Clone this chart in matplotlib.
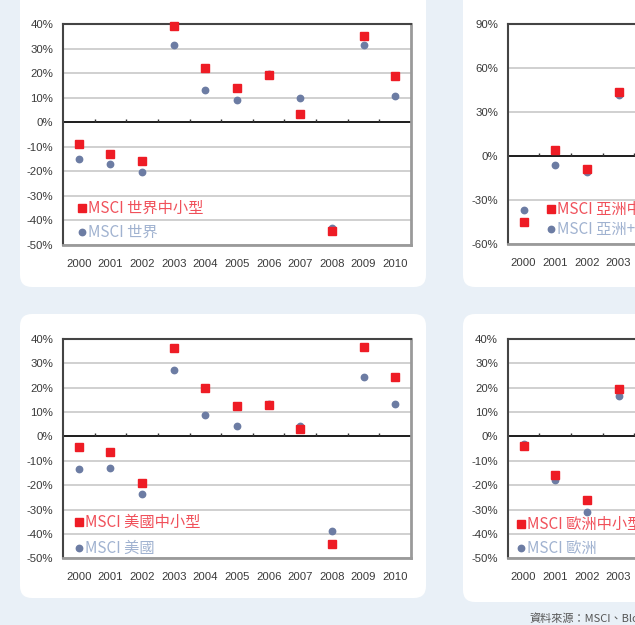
import numpy as np
import matplotlib
matplotlib.use("Agg")
import matplotlib.pyplot as plt
from matplotlib.patches import FancyBboxPatch

# ---- data (annual returns, %) ----
years = [str(y) for y in range(2000, 2011)]

world_smid = [-8.8, -12.9, -15.9, 39.0, 22.1, 14.0, 19.3, 3.4, -44.5, 35.2, 18.9]
world = [-14.9, -17.1, -20.4, 31.6, 13.3, 9.0, 19.5, 9.8, -43.2, 31.6, 10.5]

# only 2000-2003 are visible for Asia / Europe (panel is cut off)
asia_smid = [-44.8, 4.1, -8.9, 43.6]
asia = [-36.6, -6.1, -10.5, 41.5]

us_smid = [-4.2, -6.4, -19.1, 36.3, 19.9, 12.5, 12.9, 3.2, -44.2, 36.8, 24.4]
us = [-13.4, -13.1, -23.8, 27.1, 9.0, 4.1, 13.2, 4.4, -38.6, 24.5, 13.4]

europe_smid = [-4.0, -15.7, -26.0, 19.6]
europe = [-3.0, -17.8, -30.8, 16.8]

W, H = 635, 625
BG = "#e9f0f7"
RED = "#ee1c25"
BLUE = "#6c7ca3"
RED_TXT = "#f0505a"
BLUE_TXT = "#a0b2d0"
TICK_FONT = ["Liberation Sans", "DejaVu Sans"]
KEY_FONT = ["Liberation Sans Narrow", "Noto Sans CJK TC", "DejaVu Sans"]

fig = plt.figure(figsize=(W / 100, H / 100), dpi=100)
fig.patch.set_facecolor(BG)


def panel(x0, y0, x1, y1):
    """ white rounded box, pixel coords from top-left """
    box = FancyBboxPatch((x0 / 100, (H - y1) / 100), (x1 - x0) / 100, (y1 - y0) / 100,
                         boxstyle="round,pad=0,rounding_size=0.12",
                         transform=fig.dpi_scale_trans, facecolor="white",
                         edgecolor="none", zorder=-5)
    fig.patches.append(box)


def make_axes(x0, y0, x1, y1):
    return fig.add_axes([x0 / W, 1 - y1 / H, (x1 - x0) / W, (y1 - y0) / H])


def draw(ax, smid, base, ylim, ystep, labels, key_anchor, key_spacing, shown=None):
    ax.set_facecolor("white")
    n = len(years)
    x = np.arange(n)
    ax.set_xlim(-0.5, n - 0.5)
    ax.set_ylim(ylim)
    yt = np.arange(ylim[0], ylim[1] + 1, ystep)
    ax.set_yticks(yt)
    ax.set_yticklabels([f"{v}%" for v in yt], fontsize=8.2, family=TICK_FONT, color="#3a3a3a")
    # panels cut by the page edge only show the first few year labels
    shown = n if shown is None else shown
    ax.set_xticks(x[:shown])
    ax.set_xticklabels(years[:shown], fontsize=8.2, family=TICK_FONT, color="#3a3a3a")
    ax.tick_params(axis="y", length=0, pad=7)
    ax.tick_params(axis="x", length=0, pad=10)
    ax.grid(axis="y", color="#c8c8c8", linewidth=1.2)
    ax.set_axisbelow(True)

    # zero line with small ticks between categories
    ax.axhline(0, color="black", linewidth=1.2, zorder=2)
    span = ylim[1] - ylim[0]
    ax.vlines(np.arange(0.5, n - 0.5), 0, span * 0.014, color="#333333", linewidth=1, zorder=2)

    for side in ["left", "top"]:
        ax.spines[side].set_color("#444444")
        ax.spines[side].set_linewidth(1.5)
    for side in ["right", "bottom"]:
        ax.spines[side].set_color("#9a9a9a")
        ax.spines[side].set_linewidth(2)

    ax.plot(x[:len(base)], base, linestyle="none", marker="o", markersize=4.6,
            color=BLUE, label=labels[1], zorder=3)
    ax.plot(x[:len(smid)], smid, linestyle="none", marker="s", markersize=6,
            color=RED, label=labels[0], zorder=4, clip_on=False)

    handles, lbls = ax.get_legend_handles_labels()
    ax.legend(handles[::-1], lbls[::-1], loc="upper left", bbox_to_anchor=key_anchor,
              frameon=False, borderpad=0, borderaxespad=0, handlelength=0.4,
              handletextpad=0.2, labelspacing=key_spacing,
              prop={"family": KEY_FONT, "size": 11},
              labelcolor=[RED_TXT, BLUE_TXT])


def anchor(ax_box, px, py):
    """ pixel point -> axes fraction for the legend anchor """
    x0, y0, x1, y1 = ax_box
    return ((px - x0) / (x1 - x0), (y1 - py) / (y1 - y0))


# panels
panel(20, -12, 426, 287)
panel(463, -12, 760, 287)
panel(20, 314, 426, 598)
panel(463, 314, 760, 602)

boxes = {
    "tl": (63, 24, 411, 245),
    "tr": (507.7, 24, 856, 244.3),
    "bl": (63, 339, 411, 558.3),
    "br": (507.7, 339, 856, 558.3),
}

ax = make_axes(*boxes["tl"])
draw(ax, world_smid, world, (-50, 40), 10, ["MSCI 世界中小型", "MSCI 世界"],
     anchor(boxes["tl"], 79, 200), 0.45)

ax = make_axes(*boxes["tr"])
draw(ax, asia_smid, asia, (-60, 90), 30, ["MSCI 亞洲中小型", "MSCI 亞洲+"],
     anchor(boxes["tr"], 547.7, 201), 0.2, shown=4)

ax = make_axes(*boxes["bl"])
draw(ax, us_smid, us, (-50, 40), 10, ["MSCI 美國中小型", "MSCI 美國"],
     anchor(boxes["bl"], 76, 514), 0.6)

ax = make_axes(*boxes["br"])
draw(ax, europe_smid, europe, (-50, 40), 10, ["MSCI 歐洲中小型", "MSCI 歐洲"],
     anchor(boxes["br"], 517.7, 516), 0.45, shown=4)

fig.text(529 / W, 1 - 618 / H, "資料來源：MSCI、Bloomberg", fontsize=8,
         family=KEY_FONT, color="#555555", va="center", ha="left")

fig.savefig("out.png", dpi=100, facecolor=BG)
